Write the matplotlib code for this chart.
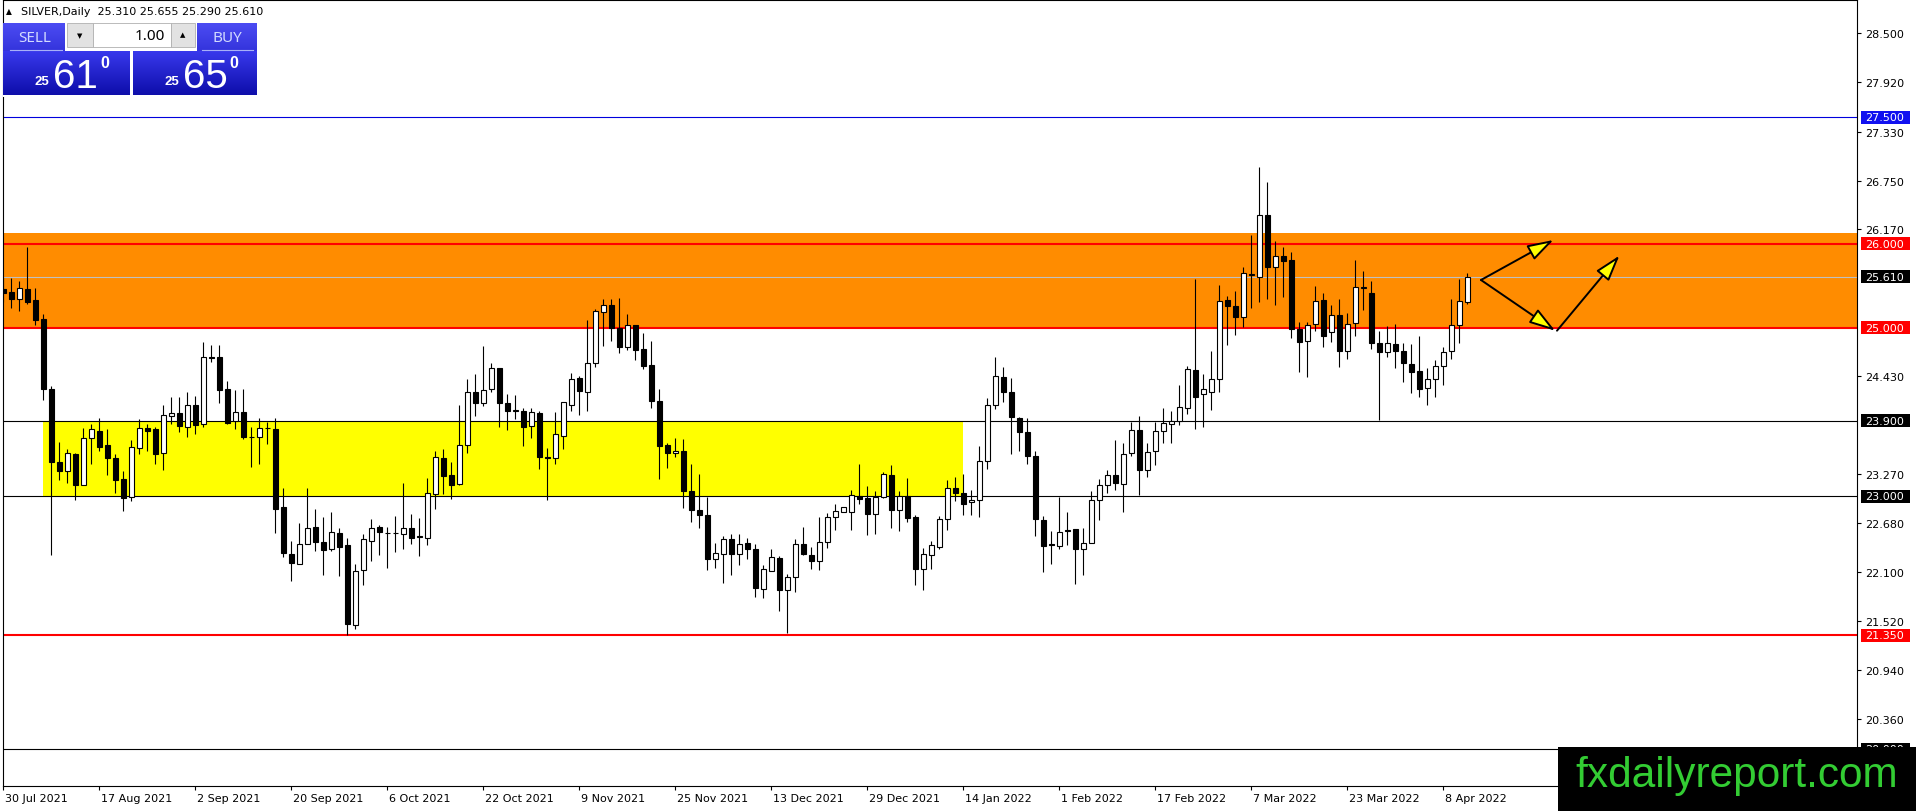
import matplotlib
matplotlib.use("Agg")
import matplotlib.pyplot as plt
import numpy as np
from matplotlib.patches import Rectangle, FancyArrowPatch
from matplotlib.colors import LinearSegmentedColormap
from matplotlib.transforms import blended_transform_factory, ScaledTranslation

# ---------------- data ----------------
opens = [25.46, 25.43, 25.35, 25.46, 25.33, 25.11, 24.27, 23.41, 23.30, 23.50,
         23.13, 23.69, 23.78, 23.61, 23.46, 23.21, 22.99, 23.58, 23.81, 23.80,
         23.51, 23.96, 23.99, 23.83, 24.09, 23.86, 24.65, 24.65, 24.28, 23.89,
         24.00, 23.71, 23.70, 23.81, 23.80, 22.87, 22.32, 22.20, 22.43, 22.64,
         22.46, 22.38, 22.57, 22.42, 21.47, 22.13, 22.47, 22.64, 22.57, 22.57,
         22.55, 22.62, 22.53, 22.51, 23.03, 23.46, 23.26, 23.15, 23.61, 24.24,
         24.11, 24.28, 24.53, 24.11, 24.02, 24.01, 23.84, 23.99, 23.47, 23.46,
         23.72, 24.09, 24.41, 24.24, 24.58, 25.19, 25.27, 25.00, 24.78, 25.03,
         24.75, 24.56, 24.13, 23.61, 23.51, 23.54, 23.06, 22.84, 22.78, 22.26,
         22.32, 22.49, 22.32, 22.45, 22.38, 21.90, 22.11, 22.27, 21.89, 22.04,
         22.44, 22.30, 22.23, 22.46, 22.76, 22.81, 22.82, 23.01, 22.98, 22.79,
         22.99, 23.26, 22.84, 23.01, 22.75, 22.14, 22.31, 22.40, 22.73, 23.10,
         23.04, 22.93, 22.96, 23.42, 24.09, 24.42, 24.24, 23.93, 23.76, 23.48,
         22.72, 22.44, 22.41, 22.60, 22.61, 22.38, 22.45, 22.96, 23.14, 23.26,
         23.15, 23.52, 23.79, 23.31, 23.54, 23.78, 23.86, 23.89, 24.05, 24.50,
         24.22, 24.24, 24.39, 25.33, 25.26, 25.13, 25.63, 25.60, 26.34, 25.73,
         25.86, 25.81, 24.99, 24.84, 25.05, 25.33, 24.95, 25.15, 24.73, 25.06,
         25.48, 25.41, 24.82, 24.71, 24.81, 24.73, 24.57, 24.49, 24.29, 24.40,
         24.55, 24.73, 25.03, 25.31]
highs = [25.60, 25.59, 25.56, 25.96, 25.47, 25.17, 24.31, 23.65, 23.56, 23.52,
         23.81, 23.86, 23.93, 23.80, 23.50, 23.30, 23.67, 23.92, 23.86, 23.83,
         24.08, 24.18, 24.18, 24.24, 24.19, 24.83, 24.80, 24.80, 24.37, 24.26,
         24.27, 23.82, 23.93, 23.88, 23.93, 23.10, 22.47, 22.69, 23.10, 22.85,
         22.76, 22.81, 22.63, 22.51, 22.20, 22.55, 22.73, 22.66, 22.64, 22.77,
         23.16, 22.79, 22.74, 23.22, 23.54, 23.56, 23.41, 24.09, 24.39, 24.45,
         24.79, 24.58, 24.53, 24.22, 24.21, 24.05, 24.05, 24.02, 23.57, 24.00,
         24.12, 24.46, 24.43, 25.09, 25.23, 25.34, 25.34, 25.36, 25.17, 25.04,
         24.94, 24.84, 24.28, 23.64, 23.69, 23.68, 23.39, 23.27, 22.99, 22.45,
         22.53, 22.55, 22.55, 22.51, 22.43, 22.19, 22.38, 22.29, 22.08, 22.49,
         22.64, 22.40, 22.75, 22.80, 22.91, 22.87, 23.08, 23.39, 23.12, 23.07,
         23.29, 23.37, 23.07, 23.22, 22.78, 22.39, 22.47, 22.77, 23.19, 23.23,
         23.27, 23.08, 23.60, 24.17, 24.66, 24.54, 24.41, 23.94, 23.93, 23.54,
         22.77, 22.59, 22.99, 22.82, 22.61, 22.62, 23.06, 23.21, 23.31, 23.67,
         23.64, 23.88, 23.95, 23.63, 23.88, 24.05, 24.01, 24.32, 24.55, 25.58,
         24.45, 24.73, 25.51, 25.38, 25.44, 25.72, 26.10, 26.91, 26.73, 26.03,
         25.96, 25.90, 25.07, 25.07, 25.50, 25.41, 25.27, 25.35, 25.18, 25.81,
         25.68, 25.56, 24.97, 25.02, 25.05, 24.82, 24.81, 24.91, 24.53, 24.62,
         24.77, 25.34, 25.58, 25.655]
lows = [25.31, 25.24, 25.20, 25.28, 25.03, 24.15, 22.30, 23.20, 23.16, 22.96,
        23.13, 23.39, 23.54, 23.25, 23.04, 22.83, 22.94, 23.50, 23.54, 23.39,
        23.31, 23.86, 23.77, 23.71, 23.74, 23.83, 24.60, 24.11, 23.86, 23.80,
        23.68, 23.35, 23.39, 23.62, 22.56, 22.28, 21.99, 22.20, 22.43, 22.35,
        22.07, 22.35, 22.06, 21.36, 21.43, 21.95, 22.23, 22.31, 22.15, 22.34,
        22.38, 22.44, 22.29, 22.42, 22.85, 23.03, 22.97, 23.14, 23.52, 23.96,
        24.07, 24.24, 23.82, 23.79, 23.92, 23.60, 23.69, 23.33, 22.96, 23.38,
        23.56, 24.01, 23.97, 24.01, 24.54, 24.79, 24.85, 24.70, 24.74, 24.62,
        24.51, 24.05, 23.21, 23.34, 23.47, 22.86, 22.70, 22.63, 22.13, 22.15,
        21.97, 22.07, 22.18, 22.26, 21.80, 21.79, 22.11, 21.64, 21.38, 21.87,
        22.30, 22.14, 22.13, 22.39, 22.60, 22.81, 22.60, 22.91, 22.54, 22.55,
        22.98, 22.62, 22.59, 22.70, 21.95, 21.89, 22.14, 22.38, 22.60, 22.95,
        22.78, 22.78, 22.75, 23.33, 24.04, 24.12, 23.50, 23.54, 23.38, 22.53,
        22.10, 22.20, 22.38, 22.42, 21.96, 22.07, 22.45, 22.72, 23.04, 23.08,
        22.81, 23.48, 23.02, 23.23, 23.37, 23.63, 23.64, 23.85, 23.98, 23.80,
        23.82, 24.03, 24.24, 24.80, 24.92, 25.01, 25.24, 25.31, 25.35, 25.27,
        25.37, 24.88, 24.48, 24.42, 24.97, 24.78, 24.83, 24.54, 24.63, 24.91,
        25.21, 24.75, 23.91, 24.65, 24.52, 24.36, 24.23, 24.18, 24.08, 24.18,
        24.32, 24.63, 24.82, 25.29]
closes = [25.42, 25.35, 25.47, 25.31, 25.09, 24.28, 23.41, 23.30, 23.51, 23.13,
          23.69, 23.80, 23.59, 23.46, 23.20, 22.98, 23.59, 23.81, 23.78, 23.50,
          23.97, 23.99, 23.84, 24.08, 23.85, 24.66, 24.64, 24.26, 23.87, 24.00,
          23.70, 23.70, 23.81, 23.81, 22.85, 22.33, 22.21, 22.44, 22.63, 22.46,
          22.36, 22.58, 22.40, 21.49, 22.12, 22.49, 22.63, 22.58, 22.56, 22.56,
          22.63, 22.51, 22.52, 23.04, 23.47, 23.24, 23.14, 23.61, 24.24, 24.11,
          24.26, 24.53, 24.11, 24.01, 24.02, 23.82, 24.00, 23.47, 23.46, 23.74,
          24.12, 24.40, 24.25, 24.59, 25.20, 25.27, 25.00, 24.78, 25.03, 24.74,
          24.55, 24.13, 23.60, 23.51, 23.54, 23.06, 22.84, 22.78, 22.26, 22.33,
          22.49, 22.32, 22.44, 22.38, 21.91, 22.14, 22.28, 21.89, 22.04, 22.44,
          22.32, 22.23, 22.46, 22.76, 22.83, 22.87, 23.02, 22.97, 22.79, 22.99,
          23.27, 22.84, 23.00, 22.74, 22.14, 22.32, 22.42, 22.73, 23.10, 23.04,
          22.91, 22.96, 23.42, 24.09, 24.43, 24.24, 23.94, 23.76, 23.48, 22.73,
          22.41, 22.42, 22.58, 22.59, 22.38, 22.45, 22.96, 23.13, 23.26, 23.16,
          23.50, 23.79, 23.31, 23.53, 23.78, 23.87, 23.89, 24.06, 24.51, 24.18,
          24.27, 24.40, 25.32, 25.26, 25.13, 25.65, 25.63, 26.34, 25.73, 25.86,
          25.80, 24.99, 24.83, 25.03, 25.32, 24.91, 25.15, 24.73, 25.05, 25.49,
          25.48, 24.82, 24.71, 24.82, 24.73, 24.58, 24.48, 24.27, 24.40, 24.55,
          24.71, 25.04, 25.32, 25.61]

date_labels = ["30 Jul 2021", "17 Aug 2021", "2 Sep 2021", "20 Sep 2021",
               "6 Oct 2021", "22 Oct 2021", "9 Nov 2021", "25 Nov 2021",
               "13 Dec 2021", "29 Dec 2021", "14 Jan 2022", "1 Feb 2022",
               "17 Feb 2022", "7 Mar 2022", "23 Mar 2022", "8 Apr 2022"]
date_label_bars = [0, 12, 24, 36, 48, 60, 72, 84, 96, 108, 120, 132, 144, 156, 168, 180]

price_ticks = [28.50, 27.92, 27.33, 26.75, 26.17, 24.43, 23.27, 22.68, 22.10, 21.52, 20.94, 20.36]

# horizontal levels: (price, line colour, line width, label background)
levels = [(27.50, "#0000DD", 0.8, "#1010F0"),
          (26.00, "#FF0000", 1.5, "#FF0000"),
          (25.61, "#C0C0C0", 0.8, "#000000"),
          (25.00, "#FF0000", 1.5, "#FF0000"),
          (23.90, "#000000", 0.8, "#000000"),
          (23.00, "#000000", 0.8, "#000000"),
          (21.35, "#FF0000", 1.5, "#FF0000"),
          (20.00, "#000000", 0.8, "#000000")]

orange_zone = (25.00, 26.13)
yellow_zone = (5, 120, 23.00, 23.90)   # bar start, bar end, price low, price high

# arrows: (bar, price) start -> end
arrows = [((184.7, 25.57), (193.75, 26.045)),
          ((184.7, 25.57), (193.96, 24.968)),
          ((194.2, 24.968), (202.0, 25.859))]

header = "SILVER,Daily  25.310 25.655 25.290 25.610"
bid_big, ask_big = "61", "65"

# ---------------- figure ----------------
W, H = 1916, 812
fig = plt.figure(figsize=(W / 100, H / 100), dpi=100, facecolor="white")

FL, FR, FT, FB = 3, 1857, 1, 787      # frame in pixels
ax = fig.add_axes([FL / W, (H - FB) / H, (FR - FL) / W, (FB - FT) / H])
ax.set_facecolor("white")
ax.set_xlim(-0.04, 231.7)
ax.set_ylim(19.561, 28.895)

n = len(opens)
x = np.arange(n)
o = np.array(opens); c = np.array(closes)
hi = np.array(highs); lo = np.array(lows)

# zones
ax.axhspan(orange_zone[0], orange_zone[1], color="#FF8C00", zorder=0.5, lw=0)
ax.add_patch(Rectangle((yellow_zone[0], yellow_zone[2]), yellow_zone[1] - yellow_zone[0],
                       yellow_zone[3] - yellow_zone[2], facecolor="#FFFF00",
                       edgecolor="none", zorder=0.6))

# level lines
for p, col, lw, _ in levels:
    ax.axhline(p, color=col, lw=lw, zorder=1)

# candles
ax.vlines(x, lo, hi, color="black", lw=0.8, zorder=3)
bottoms = np.minimum(o, c)
heights = np.maximum(np.abs(c - o), 0.008)
faces = np.where(c >= o, "white", "black")
ax.bar(x, heights, bottom=bottoms, width=0.62, color=faces, edgecolor="black",
       linewidth=0.8, zorder=4)

# arrows
for (xa, ya), (xb, yb) in arrows:
    ar = FancyArrowPatch((xa, ya), (xb, yb),
                         arrowstyle="-|>,head_length=0.8,head_width=0.25",
                         mutation_scale=20, facecolor="#FFFF00", edgecolor="black",
                         lw=1.4, shrinkA=0, shrinkB=0, zorder=6)
    ax.add_patch(ar)

# axes styling
for s in ax.spines.values():
    s.set_color("black")
    s.set_linewidth(0.8)
ax.yaxis.tick_right()
ax.set_yticks(price_ticks)
ax.set_yticklabels([f"{v:.3f}" for v in price_ticks])
ax.tick_params(axis="y", direction="out", length=3, width=0.8, labelsize=8, pad=3, colors="black")
ax.set_xticks(date_label_bars)
ax.set_xticklabels(date_labels, ha="left")
ax.tick_params(axis="x", direction="out", length=3, width=0.8, labelsize=8, pad=2)
off = ScaledTranslation(2 / 100, 0, fig.dpi_scale_trans)
for lab in ax.get_xticklabels():
    lab.set_transform(lab.get_transform() + off)

# coloured price labels on the right axis
bt = blended_transform_factory(ax.transAxes, ax.transData)
span = FR - FL
box_h = 13 / 84.2
for p, _, _, bg in levels:
    ax.add_patch(Rectangle(((1861 - FL) / span, p - box_h / 2), 49 / span, box_h,
                           transform=bt, facecolor=bg, edgecolor="none",
                           clip_on=False, zorder=7))
    ax.text((1865 - FL) / span, p, f"{p:.3f}", transform=bt, color="white",
            fontsize=8, va="center", ha="left", zorder=8, clip_on=False)

# ---------------- overlay (panel, header, logo) ----------------
axo = fig.add_axes([0, 0, 1, 1])
axo.set_zorder(10)
axo.patch.set_alpha(0)
axo.axis("off")


def grad_box(x0, y0, x1, y1, ctop, cbot, z=11):
    cmap = LinearSegmentedColormap.from_list("g", [ctop, cbot])
    g = np.linspace(0, 1, 64).reshape(-1, 1)
    axo.imshow(g, cmap=cmap, extent=(x0, x1, y1, y0), origin="upper",
               aspect="auto", zorder=z, interpolation="bilinear")


NARROW = ["Liberation Sans Narrow", "Liberation Sans"]

# header
axo.text(9, 12, "\u25B2", fontsize=5.5, ha="center", va="center", color="black", zorder=12)
axo.text(21, 12, header, fontsize=8, ha="left", va="center", color="black", zorder=12)

# panel background
axo.add_patch(Rectangle((3.5, 23.5), 255, 74, facecolor="white", edgecolor="none", zorder=10.5))
# SELL / BUY buttons
grad_box(3.5, 24, 65, 52, "#4C4CF3", "#3434DC")
grad_box(197, 24, 257, 52, "#4C4CF3", "#3434DC")
axo.plot([10, 62], [51.3, 51.3], color="#A8B0F8", lw=0.8, zorder=12)
axo.plot([202, 253], [51.3, 51.3], color="#A8B0F8", lw=0.8, zorder=12)
axo.text(35, 38.5, "SELL", fontsize=11, family="Noto Sans", color="#D2DAFF",
         ha="center", va="center", zorder=12)
axo.text(227, 38.5, "BUY", fontsize=11, family="Noto Sans", color="#D2DAFF",
         ha="center", va="center", zorder=12)
# spinner
axo.add_patch(Rectangle((67, 24), 26, 24, facecolor="#E2E2E2", edgecolor="#B0B0B0", lw=0.6, zorder=11))
axo.add_patch(Rectangle((93, 24), 78, 24, facecolor="white", edgecolor="#B0B0B0", lw=0.6, zorder=11))
axo.add_patch(Rectangle((171, 24), 24, 24, facecolor="#E2E2E2", edgecolor="#B0B0B0", lw=0.6, zorder=11))
axo.text(80, 36, "\u25BC", fontsize=5, ha="center", va="center", color="black", zorder=12)
axo.text(183, 35, "\u25B2", fontsize=5, ha="center", va="center", color="black", zorder=12)
axo.text(165, 36, "1.00", fontsize=11, family="Noto Sans", ha="right", va="center",
         color="black", zorder=12)
# big price boxes
for bx0, bx1, big in [(3.5, 130, bid_big), (133, 257, ask_big)]:
    grad_box(bx0, 52.5, bx1, 96, "#3838EC", "#0E0EAA")
    axo.text(bx0 + 38.5, 85, "25", fontsize=9.5, family="Liberation Sans", color="white",
             ha="center", va="baseline", zorder=12, fontweight="bold")
    axo.text(bx0 + 72, 88, big, fontsize=29, family=NARROW, color="white", ha="center",
             va="baseline", zorder=12)
    axo.text(bx0 + 101, 64, "0", fontsize=11.5, family="Liberation Sans", color="white",
             ha="center", va="center", zorder=12, fontweight="bold")

# logo
axo.add_patch(Rectangle((1558, 748), W - 1558, H - 748, facecolor="black",
                        edgecolor="none", zorder=13))
axo.text(1737, 776, "fxdailyreport.com", fontsize=30.5, color="#33CC33",
         family="Liberation Sans", ha="center", va="center", zorder=14)

axo.set_xlim(0, W)
axo.set_ylim(H, 0)

fig.savefig("out.png", dpi=100, facecolor="white")
